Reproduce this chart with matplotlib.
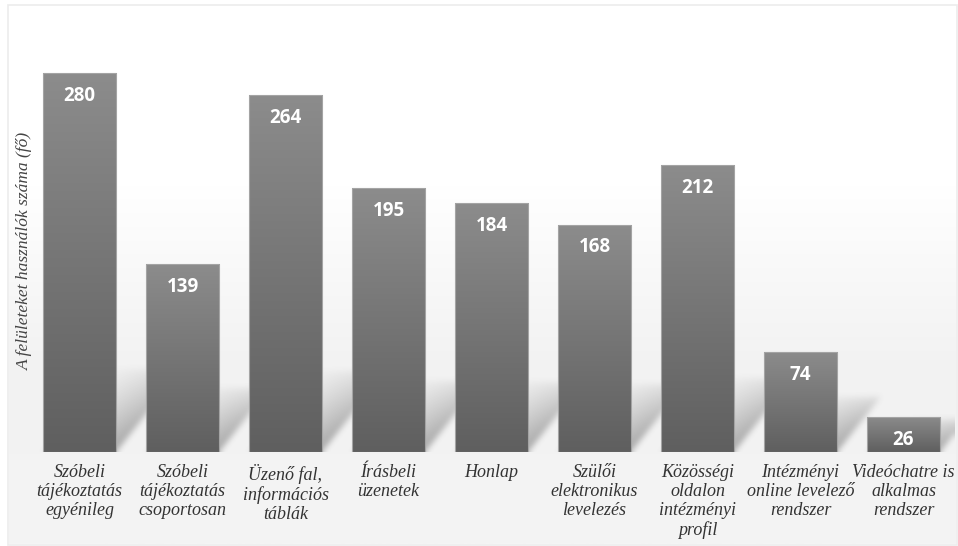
import numpy as np
import matplotlib
matplotlib.use("Agg")
import matplotlib.pyplot as plt
from matplotlib.patches import Rectangle
from matplotlib.colors import LinearSegmentedColormap

categories = [
    "Szóbeli\ntájékoztatás\negyénileg",
    "Szóbeli\ntájékoztatás\ncsoportosan",
    "Üzenő fal,\ninformációs\ntáblák",
    "Írásbeli\nüzenetek",
    "Honlap",
    "Szülői\nelektronikus\nlevelezés",
    "Közösségi\noldalon\nintézményi\nprofil",
    "Intézményi\nonline levelező\nrendszer",
    "Videóchatre is\nalkalmas\nrendszer",
]
values = [280, 139, 264, 195, 184, 168, 212, 74, 26]
ylabel = "A felületeket használók száma (fő)"

SERIF = ["Liberation Serif", "DejaVu Serif"]

W, H = 958, 546
fig = plt.figure(figsize=(W / 100, H / 100), dpi=100)
fig.patch.set_facecolor("white")

fig.patches.append(Rectangle((8 / W, 1 / H), (W - 9) / W, (H - 6) / H,
                             transform=fig.transFigure, fill=False,
                             edgecolor="#ececec", linewidth=1.2))

ax_l, ax_r, ax_b, ax_t = 28, 955, 452, 46
ax = fig.add_axes([ax_l / W, 1 - ax_b / H, (ax_r - ax_l) / W, (ax_b - ax_t) / H])
YMAX = 300
ax.set_facecolor("none")
for s in ax.spines.values():
    s.set_visible(False)
ax.set_yticks([])
ax.set_xticks([])

# background gradient
bg = fig.add_axes([9 / W, 2 / H, (W - 11) / W, (H - 8) / H], zorder=-5)
bg.axis("off")
grad = np.linspace(0, 1, 256).reshape(-1, 1)
bgcmap = LinearSegmentedColormap.from_list("bg", ["#ffffff", "#ffffff", "#f2f2f2", "#f4f4f4"])
bg.imshow(grad, aspect="auto", cmap=bgcmap, extent=[0, 1, 0, 1], origin="upper")
bg.set_xlim(0, 1)
bg.set_ylim(0, 1)

width = 0.71
barcmap = LinearSegmentedColormap.from_list("bar", ["#8c8c8c", "#5f5f5f"])
x = np.arange(len(values))
n = len(values)

# ---- soft diagonal shadows, rendered as a raster ----
pw, ph = ax_r - ax_l, ax_b - ax_t
ppx = pw / n
ppy = ph / YMAX
SH_TOP = 100
nx, ny = pw, int(SH_TOP * ppy)
xs = -0.5 + (np.arange(nx) + 0.5) / ppx
ys = (np.arange(ny) + 0.5) / ppy
XX, YY = np.meshgrid(xs, ys)
mask = np.zeros_like(XX)
slope = 0.8 * ppy / ppx
for xi, v in zip(x, values):
    sh = min(45 / ppy + 0.1 * v, v * 0.95)
    x0, x1 = xi - width / 2, xi + width / 2
    off = YY * slope
    inside = (YY <= sh) & (XX >= x0 + off) & (XX <= x1 + off)
    edge = np.clip(1 - (x1 + off - XX) / (width * 1.1), 0.2, 1)
    fade = np.clip(1 - YY / (sh * 1.05), 0, 1) ** 0.5
    mask = np.maximum(mask, inside * edge * fade)

def box_blur(a, r, axis):
    c = np.cumsum(np.pad(a, [(r + 1, r) if i == axis else (0, 0) for i in range(2)],
                         mode="edge"), axis=axis)
    if axis == 0:
        return (c[2 * r + 1:] - c[:-2 * r - 1]) / (2 * r + 1)
    return (c[:, 2 * r + 1:] - c[:, :-2 * r - 1]) / (2 * r + 1)

for _ in range(2):
    mask = box_blur(mask, 3, 0)
    mask = box_blur(mask, 3, 1)

rgba = np.zeros((ny, nx, 4))
rgba[..., :3] = 0.35
rgba[..., 3] = mask * 0.5
ax.imshow(rgba, origin="lower", extent=[-0.5, n - 0.5, 0, ny / ppy],
          aspect="auto", zorder=1, interpolation="bilinear")

bars = ax.bar(x, values, width=width, color="none", edgecolor="#a4a4a4",
              linewidth=0.8, zorder=3)
for b, v in zip(bars, values):
    x0, x1 = b.get_x(), b.get_x() + b.get_width()
    im = ax.imshow(grad, aspect="auto", cmap=barcmap,
                   extent=[x0, x1, 0, v], origin="upper", zorder=2)
    im.set_clip_path(b)
    ax.text(b.get_x() + b.get_width() / 2, v - 9.5, str(v), ha="center", va="top",
            color="white", fontsize=13.5, fontweight="bold",
            family="Open Sans", zorder=4)

ax.set_xlim(-0.5, n - 0.5)
ax.set_ylim(0, YMAX)

for xi, c in zip(x, categories):
    ax.text(xi, -9.0, c, ha="center", va="top", fontsize=13, style="italic",
            family=SERIF, color="#333333", linespacing=1.15, zorder=4)

fig.text(25 / W, 1 - 251 / H, ylabel, rotation=90, ha="center", va="center",
         fontsize=12.5, style="italic", family=SERIF, color="#444444")

fig.savefig("out.png", dpi=100, facecolor="white")
